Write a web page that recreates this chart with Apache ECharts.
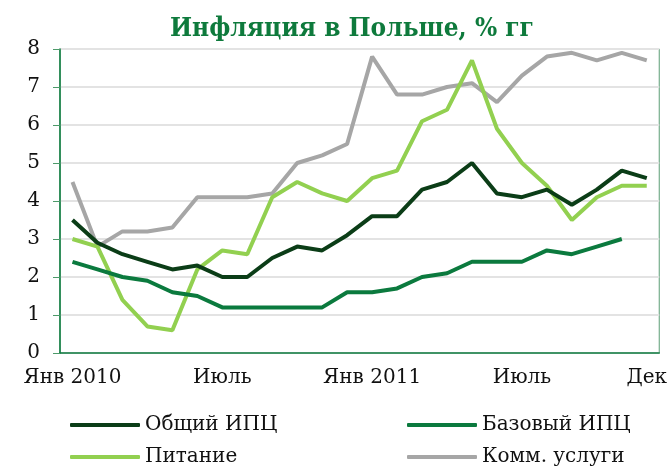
<!DOCTYPE html>
<html>
<head>
<meta charset="utf-8">
<script src="https://cdn.jsdelivr.net/npm/echarts@6/dist/echarts.min.js"></script>
<style>
  html, body { margin: 0; padding: 0; background: #fff; }
  #main { width: 670px; height: 467px; }
</style>
</head>
<body>
<div id="main"></div>
<script>
// месяцы янв 2010 - дек 2011
var months = ['Янв 2010', 'Фев', 'Мар', 'Апр', 'Май', 'Июнь', 'Июль', 'Авг', 'Сен', 'Окт', 'Ноя', 'Дек',
              'Янв 2011', 'Фев', 'Мар', 'Апр', 'Май', 'Июнь', 'Июль', 'Авг', 'Сен', 'Окт', 'Ноя', 'Дек'];
var monthLabels = ['Янв 2010', 'Июль', 'Янв 2011', 'Июль', 'Дек'];
var labelIndex = [0, 6, 12, 18, 23];

var cpiTotal = [3.5, 2.9, 2.6, 2.4, 2.2, 2.3, 2.0, 2.0, 2.5, 2.8, 2.7, 3.1,
                3.6, 3.6, 4.3, 4.5, 5.0, 4.2, 4.1, 4.3, 3.9, 4.3, 4.8, 4.6];
var cpiCore = [2.4, 2.2, 2.0, 1.9, 1.6, 1.5, 1.2, 1.2, 1.2, 1.2, 1.2, 1.6,
               1.6, 1.7, 2.0, 2.1, 2.4, 2.4, 2.4, 2.7, 2.6, 2.8, 3.0, null];
var food = [3.0, 2.8, 1.4, 0.7, 0.6, 2.2, 2.7, 2.6, 4.1, 4.5, 4.2, 4.0,
            4.6, 4.8, 6.1, 6.4, 7.7, 5.9, 5.0, 4.4, 3.5, 4.1, 4.4, 4.4];
var utilities = [4.5, 2.8, 3.2, 3.2, 3.3, 4.1, 4.1, 4.1, 4.2, 5.0, 5.2, 5.5,
                 7.8, 6.8, 6.8, 7.0, 7.1, 6.6, 7.3, 7.8, 7.9, 7.7, 7.9, 7.7];

var seriesNames = ['Общий ИПЦ', 'Базовый ИПЦ', 'Питание', 'Комм. услуги'];
var seriesColors = ['#0b3d17', '#0b7a3e', '#92d050', '#a6a6a6'];
var seriesData = [cpiTotal, cpiCore, food, utilities];

var serif = 'DejaVu Serif';
var axisGreen = '#0b7a3e';

// позиции легенды: 2 колонки x 2 ряда
var legendLeft = [65, 402, 65, 402];
var legendTop = [409, 409, 441, 441];

var chartDom = document.getElementById('main');
var myChart = echarts.init(chartDom);
var option;

option = {
    animation: false,
    title: {
        text: 'Инфляция в Польше, % гг',
        left: 165,
        top: 11,
        textStyle: {
            fontFamily: 'DejaVu Serif Condensed, DejaVu Serif',
            fontWeight: 'bold',
            fontSize: 26,
            color: '#0e7a3c'
        }
    },
    grid: {
        left: 60,
        right: 8,
        top: 49,
        bottom: 114,
        show: true,
        borderColor: '#5c9e75',
        borderWidth: 1
    },
    legend: seriesNames.map(function (name, i) {
        return {
            left: legendLeft[i],
            top: legendTop[i],
            itemWidth: 70,
            itemHeight: 4,
            icon: 'roundRect',
            data: [name],
            textStyle: { fontFamily: serif, fontSize: 20, lineHeight: 22, color: '#111' }
        };
    }),
    xAxis: [
        {
            type: 'category',
            data: months,
            boundaryGap: true,
            axisLine: { lineStyle: { color: axisGreen, width: 1.5 } },
            axisTick: { interval: 2, length: 8, lineStyle: { color: axisGreen } },
            axisLabel: {
                interval: function (idx) { return labelIndex.indexOf(idx) >= 0; },
                formatter: function (val, idx) { return monthLabels[labelIndex.indexOf(idx)]; },
                fontFamily: serif,
                fontSize: 20,
                color: '#111',
                margin: 15
            },
            splitLine: { show: false }
        },
        {
            type: 'category',
            data: months,
            boundaryGap: true,
            position: 'bottom',
            axisLine: { show: false },
            axisTick: { interval: 5, inside: true, length: 8, lineStyle: { color: axisGreen } },
            axisLabel: { show: false },
            splitLine: { show: false }
        }
    ],
    yAxis: {
        type: 'value',
        min: 0,
        max: 8,
        interval: 1,
        axisLine: { show: true, lineStyle: { color: axisGreen, width: 1.5 } },
        axisTick: { show: true, length: 7, lineStyle: { color: '#4d9a6a' } },
        axisLabel: { fontFamily: serif, fontSize: 20, color: '#111', margin: 20 },
        splitLine: { lineStyle: { color: '#e3e3e3', width: 2 } }
    },
    series: seriesNames.map(function (name, i) {
        return {
            name: name,
            type: 'line',
            data: seriesData[i],
            symbol: 'none',
            color: seriesColors[i],
            lineStyle: { width: 4, color: seriesColors[i] },
            z: 10 - i
        };
    })
};

option && myChart.setOption(option);
</script>
</body>
</html>
